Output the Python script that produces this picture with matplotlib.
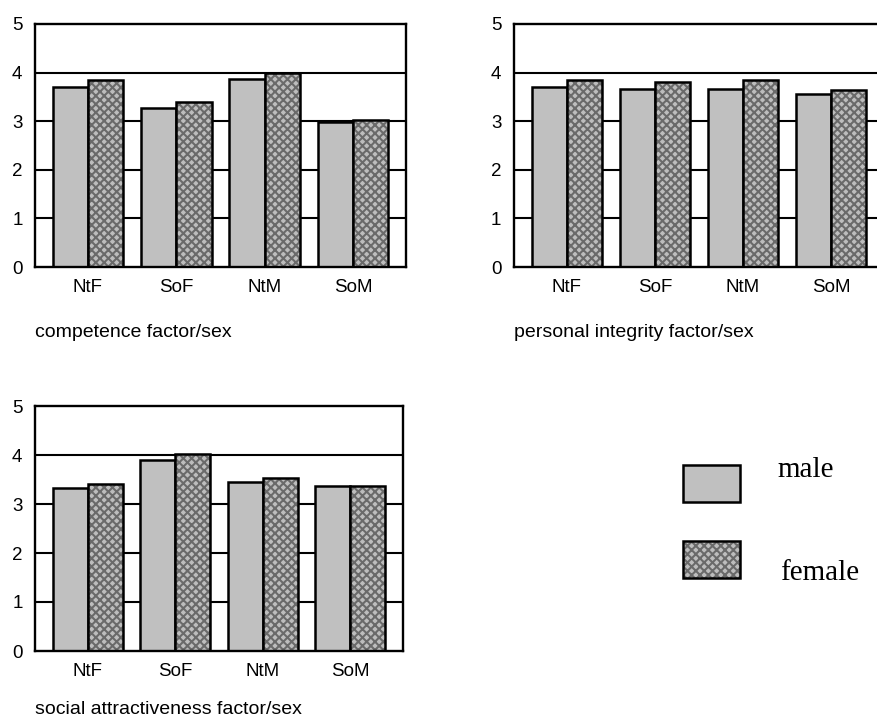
import numpy as np
import matplotlib
matplotlib.use('Agg')
import matplotlib.pyplot as plt
from matplotlib.patches import Rectangle

# data
groups = ['NtF', 'SoF', 'NtM', 'SoM']
competence_male = [3.71, 3.27, 3.87, 2.98]
competence_female = [3.84, 3.39, 4.00, 3.02]
integrity_male = [3.71, 3.67, 3.67, 3.55]
integrity_female = [3.84, 3.81, 3.84, 3.64]
social_male = [3.33, 3.90, 3.45, 3.36]
social_female = [3.40, 4.02, 3.53, 3.36]
captions = ['competence factor/sex', 'personal integrity factor/sex',
            'social attractiveness factor/sex']
legend_labels = ['male', 'female']

male_color = '#c0c0c0'
female_face = '#bdbdbd'
hatch_col = '#6a6a6a'

plt.rcParams['font.family'] = ['Liberation Sans', 'DejaVu Sans']
plt.rcParams['hatch.linewidth'] = 1.5

W, H = 878, 722
fig = plt.figure(figsize=(W / 100, H / 100), dpi=100)


def panel(rect, male, female, caption, cap_off):
    ax = fig.add_axes(rect)
    x = np.arange(len(groups))
    w = 0.4
    for yv in [1, 2, 3, 4]:
        ax.axhline(yv, color='k', lw=1.5, zorder=1)
    ax.bar(x - w / 2, male, w, color=male_color, edgecolor='k', lw=1.8, zorder=2)
    ax.bar(x + w / 2, female, w, color=female_face, edgecolor=hatch_col,
           hatch='xxxx', lw=0, zorder=2)
    ax.bar(x + w / 2, female, w, fill=False, edgecolor='k', lw=1.8, zorder=3)
    ax.set_xlim(-0.6, 3.6)
    ax.set_ylim(0, 5)
    ax.set_yticks([0, 1, 2, 3, 4, 5])
    ax.set_xticks(x)
    ax.set_xticklabels(groups)
    ax.tick_params(length=0, labelsize=13.5)
    ax.tick_params(axis='y', pad=9)
    ax.tick_params(axis='x', pad=9)
    for s in ax.spines.values():
        s.set_linewidth(1.7)
    ax.text(0, -cap_off / (rect[3] * H), caption, transform=ax.transAxes,
            fontsize=14, ha='left', va='baseline')
    return ax


panel([35 / W, 1 - 267 / H, 371 / W, 243 / H],
      competence_male, competence_female, captions[0], 70)
panel([514 / W, 1 - 267 / H, 370 / W, 243 / H],
      integrity_male, integrity_female, captions[1], 70)
panel([35 / W, 1 - 651 / H, 368 / W, 245 / H],
      social_male, social_female, captions[2], 63)

# legend drawn by hand, like the original
lx, lw_, lh = 683 / W, 57 / W, 37 / H
fig.patches.append(Rectangle((lx, 1 - 502 / H), lw_, lh, transform=fig.transFigure,
                             facecolor=male_color, edgecolor='k', lw=1.8))
fig.patches.append(Rectangle((lx, 1 - 578 / H), lw_, lh, transform=fig.transFigure,
                             facecolor=female_face, edgecolor=hatch_col,
                             hatch='xxxx', lw=0))
fig.patches.append(Rectangle((lx, 1 - 578 / H), lw_, lh, transform=fig.transFigure,
                             fill=False, edgecolor='k', lw=1.8))
fig.text(777 / W, 1 - 477 / H, legend_labels[0], fontsize=21,
         family='Liberation Serif', va='baseline')
fig.text(780 / W, 1 - 580 / H, legend_labels[1], fontsize=21,
         family='Liberation Serif', va='baseline')

fig.savefig('out.png', dpi=100)
